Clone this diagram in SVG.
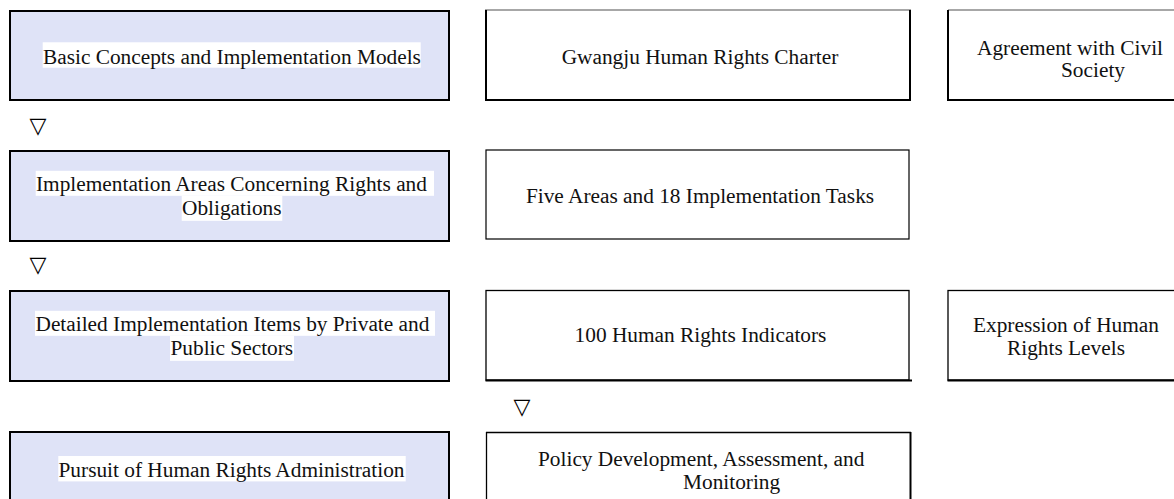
<svg xmlns="http://www.w3.org/2000/svg" width="1174" height="499" viewBox="0 0 1174 499">
<style>
.t{font-family:"Liberation Serif","Times New Roman",serif;font-size:21.33px;fill:#111}
.m{text-anchor:middle}
.fill{fill:#DFE3F7}
.white{fill:#fff}
.e{stroke:#000;fill:none}
.g{stroke:#8a8a8a;fill:none}
.hl{fill:#fff}
.tri{font-family:"DejaVu Sans",sans-serif;font-size:22px;fill:#000;text-anchor:middle}
</style>
<rect width="1174" height="499" fill="#fff"/>

<g id="basic-concepts">
<rect class="fill" x="10" y="11" width="439" height="89"/>
<rect class="e" x="10" y="11" width="439" height="89" stroke-width="2"/>
<rect class="hl" x="42.7" y="42.3" width="378" height="25.4"/>
<text class="t" x="43" y="63.5">Basic Concepts and Implementation Models</text>
</g>

<g id="implementation-areas">
<rect class="fill" x="10" y="151" width="439" height="90"/>
<rect class="e" x="10" y="151" width="439" height="90" stroke-width="2"/>
<rect class="hl" x="35.7" y="170.8" width="398.3" height="25"/>
<rect class="hl" x="181.7" y="195.8" width="100.6" height="25"/>
<text class="t" x="36" y="191">Implementation Areas Concerning Rights and</text>
<text class="t" x="182" y="215">Obligations</text>
</g>

<g id="detailed-items">
<rect class="fill" x="10" y="291" width="439" height="90"/>
<rect class="e" x="10" y="291" width="439" height="90" stroke-width="2"/>
<rect class="hl" x="35" y="310.8" width="400" height="25"/>
<rect class="hl" x="170" y="335.8" width="124" height="25"/>
<text class="t" x="35.5" y="331">Detailed Implementation Items by Private and</text>
<text class="t" x="170.5" y="355">Public Sectors</text>
</g>

<g id="pursuit">
<rect class="fill" x="10" y="432" width="439" height="80"/>
<rect class="e" x="10" y="432" width="439" height="80" stroke-width="2"/>
<rect class="hl" x="58.3" y="456" width="347.4" height="25.4"/>
<text class="t" x="58.5" y="477">Pursuit of Human Rights Administration</text>
</g>

<g id="gwangju-charter">
<rect class="white" x="485.5" y="10" width="425" height="90"/>
<line class="g" x1="485" y1="10" x2="911" y2="10" stroke-width="1.5"/>
<line class="e" x1="486" y1="10" x2="486" y2="100" stroke-width="2"/>
<line class="e" x1="910" y1="10" x2="910" y2="100" stroke-width="2"/>
<line class="e" x1="485" y1="100" x2="911" y2="100" stroke-width="2"/>
<text class="t m" x="700" y="63.5">Gwangju Human Rights Charter</text>
</g>

<g id="agreement">
<rect class="white" x="948" y="10" width="240" height="90"/>
<line class="g" x1="948" y1="10" x2="1174" y2="10" stroke-width="1.5"/>
<line class="e" x1="948" y1="10" x2="948" y2="100" stroke-width="2"/>
<line class="e" x1="947" y1="100" x2="1174" y2="100" stroke-width="2"/>
<text class="t" x="977" y="54.5">Agreement with Civil</text>
<text class="t" x="1061" y="77">Society</text>
</g>

<g id="five-areas">
<rect class="e" x="486" y="150" width="423" height="89" stroke-width="1.2" fill="#fff"/>
<text class="t m" x="700" y="202.5">Five Areas and 18 Implementation Tasks</text>
</g>

<g id="hundred-indicators">
<rect class="e" x="486" y="290.5" width="423" height="89.5" stroke-width="1.3" fill="#fff"/>
<line class="e" x1="485.5" y1="380.5" x2="912" y2="380.5" stroke-width="2"/>
<text class="t m" x="700.5" y="342">100 Human Rights Indicators</text>
</g>

<g id="expression">
<rect class="e" x="948" y="290.5" width="240" height="89.5" stroke-width="1.3" fill="#fff"/>
<line class="e" x1="947.5" y1="380.5" x2="1174" y2="380.5" stroke-width="2"/>
<text class="t m" x="1066" y="331.5">Expression of Human</text>
<text class="t m" x="1066" y="354.5">Rights Levels</text>
</g>

<g id="policy">
<rect class="white" x="486" y="432" width="425" height="80"/>
<line class="e" x1="486" y1="432.5" x2="911" y2="432.5" stroke-width="1.3"/>
<line class="e" x1="486.5" y1="432" x2="486.5" y2="499" stroke-width="1.3"/>
<line class="e" x1="910.5" y1="432" x2="910.5" y2="499" stroke-width="2"/>
<text class="t" x="538" y="466">Policy Development, Assessment, and</text>
<text class="t" x="683" y="489">Monitoring</text>
</g>

<g id="connectors">
<text class="tri" x="38" y="133">▽</text>
<text class="tri" x="38" y="272">▽</text>
<text class="tri" x="522" y="414">▽</text>
</g>
</svg>
